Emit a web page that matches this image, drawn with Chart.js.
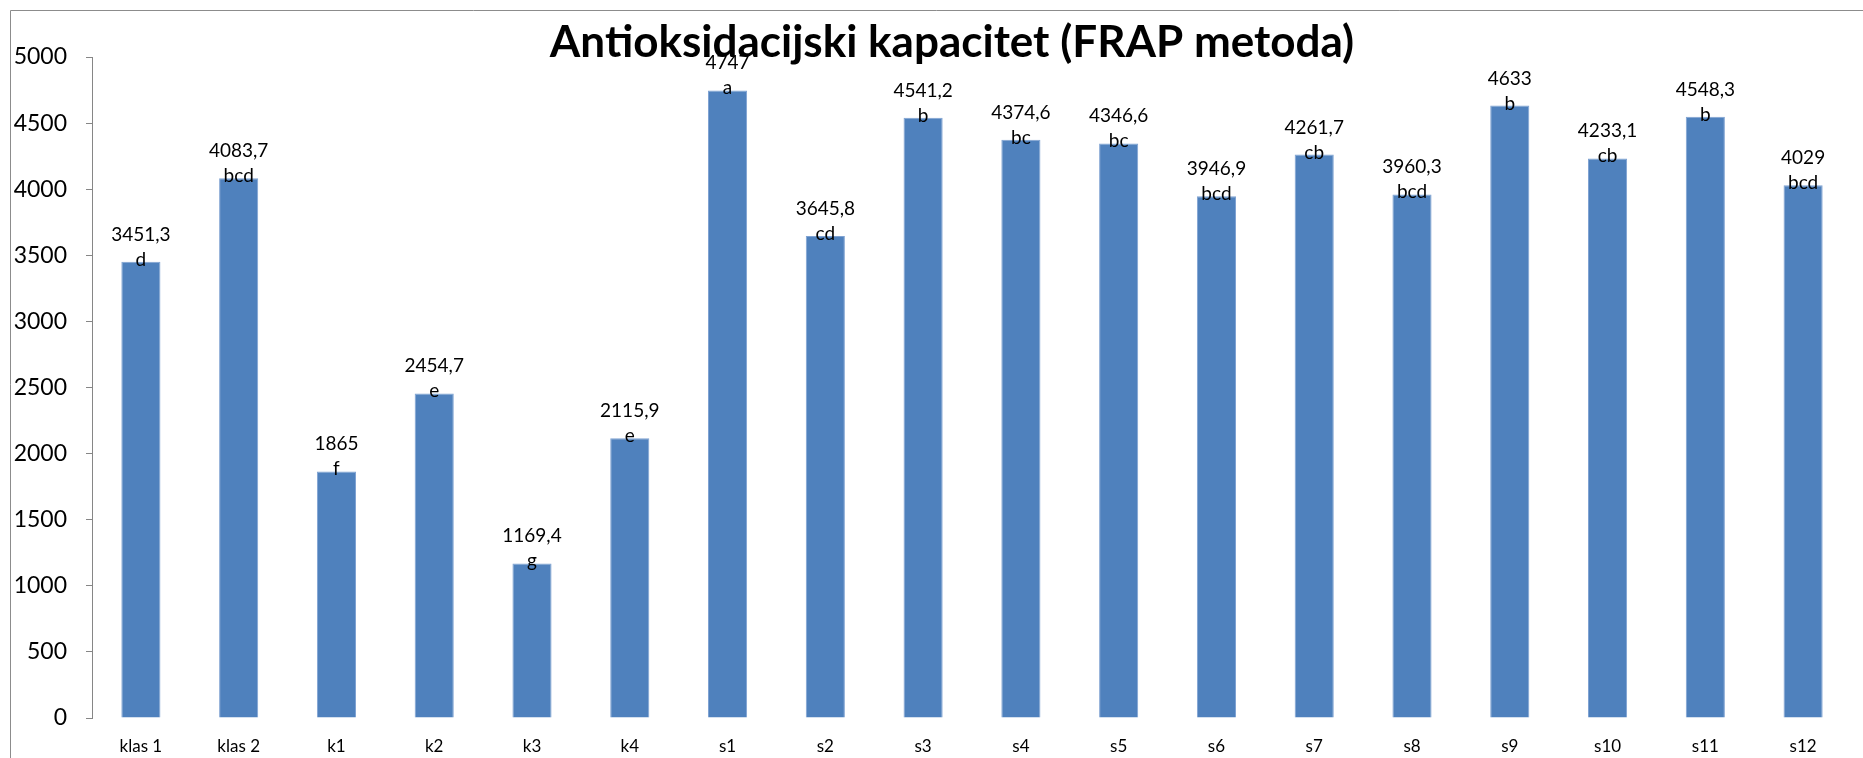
<!DOCTYPE html>
<html>
<head>
<meta charset="utf-8">
<script src="https://cdn.jsdelivr.net/npm/chart.js@4"></script>
<style>
  body { margin: 0; background: #fff; }
  #wrap { width: 1863px; height: 758px; position: relative; }
</style>
</head>
<body>
<div id="wrap"><canvas id="grafico_frap" width="1863" height="758"></canvas></div>
<script>
let ctx = document.getElementById('grafico_frap')

// podaci
const labels = ['klas 1', 'klas 2', 'k1', 'k2', 'k3', 'k4', 's1', 's2', 's3', 's4', 's5', 's6', 's7', 's8', 's9', 's10', 's11', 's12']
const vrijednosti = [3451.3, 4083.7, 1865, 2454.7, 1169.4, 2115.9, 4747, 3645.8, 4541.2, 4374.6, 4346.6, 3946.9, 4261.7, 3960.3, 4633, 4233.1, 4548.3, 4029]
const slova = ['d', 'bcd', 'f', 'e', 'g', 'e', 'a', 'cd', 'b', 'bc', 'bc', 'bcd', 'cb', 'bcd', 'b', 'cb', 'b', 'bcd']
const naslov = 'Antioksidacijski kapacitet (FRAP metoda)'

Chart.defaults.font.family = 'Lato, "Open Sans", sans-serif'
Chart.defaults.color = '#000'

// okvir, naslov i oznake iznad stupaca
const crtanje = {
    id: 'crtanje',
    beforeDraw(chart) {
        const c = chart.ctx
        c.save()
        c.fillStyle = '#fff'
        c.fillRect(0, 0, chart.width, chart.height)
        c.strokeStyle = '#8c8c8c'
        c.lineWidth = 1
        c.beginPath()
        c.moveTo(10.5, chart.height)
        c.lineTo(10.5, 10.5)
        c.lineTo(chart.width, 10.5)
        c.stroke()
        c.restore()
    },
    afterDatasetsDraw(chart) {
        const c = chart.ctx
        const meta = chart.getDatasetMeta(0)
        c.save()
        c.fillStyle = '#000'
        c.textAlign = 'center'
        c.textBaseline = 'alphabetic'
        c.font = '19px Lato, sans-serif'
        meta.data.forEach((bar, i) => {
            const txt = String(vrijednosti[i]).replace('.', ',')
            c.fillText(txt, bar.x, bar.y - 21)
            c.fillText(slova[i], bar.x, bar.y + 4)
        })
        c.font = 'bold 44px Lato, sans-serif'
        c.textBaseline = 'middle'
        c.fillText(naslov, 952, 43)
        c.restore()
    }
}

const data = {
    labels,
    datasets: [{
        data: vrijednosti,
        backgroundColor: '#4f81bd',
        borderColor: '#7fa2d2',
        borderWidth: 1,
        barPercentage: 0.4,
        categoryPercentage: 1
    }]
}

const config = {
    type: 'bar',
    data,
    plugins: [crtanje],
    options: {
        responsive: false,
        animation: false,
        layout: { padding: { top: 57, right: 11, left: 0, bottom: 0 } },
        plugins: {
            legend: { display: false },
            tooltip: { enabled: false }
        },
        scales: {
            y: {
                min: 0,
                max: 5000,
                ticks: {
                    stepSize: 500,
                    padding: 19,
                    font: { size: 23 },
                    color: '#000',
                    callback: (v) => String(v)
                },
                grid: { drawOnChartArea: false, tickLength: 6, color: '#868686' },
                border: { color: '#868686', width: 1 },
                afterFit(scale) { scale.width = 92 }
            },
            x: {
                ticks: { padding: 18, font: { size: 17 }, color: '#000' },
                grid: { display: false, drawTicks: false },
                border: { display: false },
                afterFit(scale) { scale.height = 40 }
            }
        }
    }
}

const graf = new Chart(ctx, config)
</script>
</body>
</html>
